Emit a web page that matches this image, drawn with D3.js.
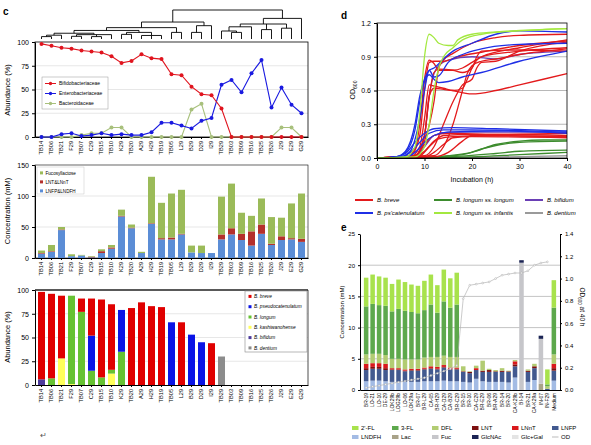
<!DOCTYPE html>
<html>
<head>
<meta charset="utf-8">
<script src="https://cdn.jsdelivr.net/npm/d3@7"></script>
<style>
  body { margin: 0; background: #fff; }
  svg { display: block; font-family: "Liberation Sans", Arial, sans-serif; }
</style>
</head>
<body>
<div id="container"></div>
<script>
// ---- panel c data ----
const samples = ["TB14","TB06","TB21","F29","TB07","C29","TB15","TB10","K29","TB20","A29","H29","TB19","TB05","L29","B29","D29","I29","TB29","TB03","TB09","TB16","TB25","TB26","J29","E29","G29"];
const familyNames = ["Bifidobacteriaceae", "Enterobacteriaceae", "Bacteroidaceae"];
const bifidoAbund = [98,96,94,93,91,90,89,85,78,80,87,83,82,66,65,53,45,44,30,0,0,0,0,0,0,0,0];
const enteroAbund = [0,0,3,4,1,2,4,2,3,2,2,5,15,15,12,9,17,20,55,60,47,67,81,31,52,34,25];
const bacterAbund = [0,0,0,0,2,4,4,10,10,0,0,0,0,0,0,29,35,0,0,0,0,0,0,0,10,10,0];

const hmoGroups = ["LNFP&LNDFH", "LNT&LNnT", "Fucosyllactose"];
const lnfpConc = [7,10,45,3,4,1,8,15,67,48,8,55,30,30,38,9,8,8,30,38,29,20,39,21,29,30,26];
const lntConc  = [1,1,1,0,0,1,3,2,1,1,0,1,2,3,1,0,0,0,8,10,10,23,15,2,6,2,5];
const flConc   = [4,10,4,3,1,1,3,4,10,5,2,75,57,71,71,11,12,0,61,72,34,25,42,43,30,56,73];

const speciesNames = ["B. bifidum","B. kashiwanohense","B. longum","B. pseudocatenulatum","B. breve","B. dentium"];
const bifidumAb = [6,0,0,0,0,0,0,0,0,0,0,0,0,0,0,0,0,0,0,0,0,0,0,0,0,0,0];
const kashiAb   = [0,0,28,1,0,0,0,12,0,0,0,0,0,0,0,0,0,0,0,0,0,0,0,0,0,0,0];
const longumAb  = [0,7,0,93,77,15,8,4,35,0,0,0,0,0,0,0,0,0,0,0,0,0,0,0,0,0,0];
const pseudoAb  = [0,0,0,0,0,37,0,0,44,0,0,0,0,66,0,53,45,0,0,0,0,0,0,0,0,0,0];
const breveAb   = [92,89,66,0,14,39,82,69,0,81,87,83,82,0,66,0,0,44,0,0,0,0,0,0,0,0,0];
const dentiumAb = [0,0,0,0,0,0,0,0,0,0,0,0,0,0,0,0,0,0,30,0,0,0,0,0,0,0,0];

// dendrogram (h = merge height)
const dendroTree = { h: 1, c: [
  { h: 0.57, c: [
    { h: 0.37, c: [
      { h: 0.27, c: [
        { h: 0.17, c: [
          { h: 0.1, c: [{ h: 0.05, c: ["TB14","TB06"] }, "TB21"] },
          { h: 0.12, c: [{ h: 0.06, c: ["F29","TB07"] }, { h: 0.05, c: ["C29","TB15"] }, "TB10"] }
        ] },
        { h: 0.2, c: [{ h: 0.13, c: ["K29","TB20"] }, { h: 0.09, c: ["A29","H29","TB19"] }] }
      ] },
      { h: 0.2, c: ["TB05","L29"] }
    ] },
    { h: 0.44, c: [{ h: 0.2, c: ["B29","D29"] }, "I29"] }
  ] },
  { h: 0.7, c: [
    { h: 0.5, c: [
      { h: 0.4, c: [{ h: 0.25, c: ["TB29", { h: 0.2, c: ["TB03","TB09"] }] }, "TB16"] },
      { h: 0.3, c: ["TB25","TB26"] },
      { h: 0.35, c: ["J29","E29"] }
    ] },
    "G29"
  ] }
] };

// ---- panel d data: [hour, OD600] ----
const breveCurves = [
  [[0,0],[6,0.01],[8,0.08],[9,0.3],[10,0.7],[11,0.87],[12,0.84],[13,0.78],[16,0.78],[18,0.8],[20,0.85],[22,0.9],[30,0.98],[40,1.05]],
  [[0,0],[7,0.02],[9,0.2],[10,0.6],[11,0.85],[12,0.86],[14,0.86],[17,0.9],[22,0.94],[30,1.0],[40,1.04]],
  [[0,0],[7,0.01],[9,0.1],[10,0.35],[11,0.65],[12,0.64],[14,0.62],[16,0.6],[20,0.57],[25,0.6],[30,0.65],[40,0.75]],
  [[0,0],[8,0.02],[10,0.2],[11,0.55],[12,0.76],[13,0.79],[16,0.78],[18,0.76],[20,0.8],[21,0.9],[22,0.95],[30,0.96],[40,0.95]],
  [[0,0],[12,0.02],[14,0.1],[16,0.3],[18,0.6],[19,0.75],[20,0.82],[22,0.86],[25,0.88],[30,0.92],[40,0.97]],
  [[0,0],[8,0.02],[10,0.15],[12,0.5],[13,0.8],[14,0.87],[16,0.93],[20,1.02],[25,1.07],[30,1.09],[40,1.1]],
  [[0,0],[10,0.02],[12,0.1],[14,0.3],[16,0.5],[18,0.65],[20,0.7],[21,0.8],[22,0.85],[25,0.86],[30,0.95],[40,1.03]],
  [[0,0],[8,0.02],[10,0.2],[11,0.55],[12,0.62],[14,0.61],[16,0.6],[18,0.62],[19,0.7],[20,0.8],[22,0.9],[30,0.95],[40,0.98]],
  [[0,0],[8,0.01],[10,0.06],[12,0.15],[14,0.2],[20,0.21],[30,0.21],[40,0.2]],
  [[0,0],[9,0.02],[11,0.1],[13,0.17],[16,0.19],[25,0.2],[40,0.19]],
  [[0,0],[10,0.01],[12,0.05],[14,0.12],[16,0.18],[20,0.19],[40,0.18]],
  [[0,0],[8,0.02],[10,0.12],[12,0.2],[15,0.22],[25,0.21],[40,0.22]],
  [[0,0],[12,0.01],[15,0.05],[18,0.15],[20,0.2],[40,0.19]]
];
const pscatCurves = [
  [[0,0],[4,0.01],[6,0.05],[8,0.25],[9,0.5],[10,0.68],[11,0.74],[12,0.7],[13,0.67],[15,0.68],[18,0.72],[22,0.76],[30,0.86],[40,0.95]],
  [[0,0],[4,0.01],[6,0.06],[8,0.3],[9,0.55],[10,0.7],[11,0.78],[12,0.8],[14,0.88],[16,0.95],[20,1.02],[25,1.1],[30,1.13],[40,1.12]],
  [[0,0],[5,0.01],[7,0.06],[9,0.35],[10,0.6],[11,0.78],[12,0.72],[13,0.73],[15,0.85],[18,0.92],[22,0.97],[30,1.01],[40,1.02]],
  [[0,0],[4,0.01],[6,0.04],[8,0.14],[10,0.22],[12,0.26],[16,0.27],[25,0.26],[40,0.24]],
  [[0,0],[5,0.01],[7,0.05],[9,0.14],[11,0.22],[14,0.25],[20,0.25],[40,0.23]],
  [[0,0],[6,0.01],[8,0.05],[10,0.14],[12,0.2],[15,0.23],[25,0.24],[40,0.22]]
];
const infantisCurves = [
  [[0,0],[6,0.01],[8,0.1],[9,0.4],[10,0.9],[11,1.1],[12,1.07],[13,1.02],[15,1.0],[16,1.0],[17,1.05],[20,1.1],[25,1.12],[40,1.15]],
  [[0,0],[8,0.01],[10,0.1],[11,0.3],[12,0.6],[13,0.8],[14,0.9],[16,0.98],[18,1.05],[22,1.1],[30,1.13],[40,1.15]]
];
const bifidumCurves = [
  [[0,0],[8,0.02],[10,0.2],[11,0.55],[12,0.75],[13,0.82],[15,0.87],[20,0.9],[25,0.88],[30,0.92],[40,0.95]],
  [[0,0],[8,0.01],[10,0.1],[12,0.2],[15,0.23],[40,0.23]]
];
const longumCurves = [
  [[0,0],[10,0.005],[15,0.02],[20,0.05],[25,0.12],[30,0.15],[35,0.16],[40,0.16]],
  [[0,0],[10,0.005],[18,0.03],[22,0.08],[26,0.12],[30,0.14],[40,0.15]],
  [[0,0],[15,0.01],[25,0.04],[30,0.06],[40,0.07]],
  [[0,0],[20,0.01],[30,0.03],[40,0.05]]
];
const dentiumCurves = [
  [[0,0],[20,0.005],[40,0.02]]
];

// ---- panel e data ----
const eSamples = ["BR-19","LO-21","LO-10","DE-29","LOK29b","LOG29b","LO-06","LOK29a","BR-07","BR-L29","CA-05","BR-H29","CA-D29","CA-B29","BR-C29","BR-15","BR-10","CA-C29","BR-E29","BR-06","BR-A29","BR-14","BR-20","CA-K29b","BI-14","BR-21","CA-K29a","IN-07","IN-F29","Medium"];
const lndfhE = [1.4,1.5,1.5,1.4,1.3,1.3,1.3,1.3,1.3,1.4,1.4,1.4,1.5,1.4,1.4, 1.3,1.2,1.8,1.4,1.3,1.3,1.3,1.2,2.0, 0,1.3,1.6,0,0,1.5];
const lnfpE  = [1.8,1.9,1.9,1.8,1.9,1.9,1.7,1.8,1.8,1.9,2.0,1.9,2.1,1.9,1.9, 1.6,1.5,1.4,1.5,1.6,1.6,1.6,1.7,1.8, 0,1.6,1.9,0,0.2,1.6];
const lntE   = [0.3,0.3,0.3,0.3,0.1,0.1,0.1,0.1,0.1,0.1,0.1,0.1,0.1,0.1,0.1, 0.1,0.2,0,0.2,0.3,0.1,0.2,0.1,0.3, 0,0.2,0.3,0,0,0.4];
const lnntE  = [0.7,0.6,0.6,0.7,0.2,0.2,0.2,0.2,0.2,0.2,0.3,0.3,0.3,0.2,0.2, 0,0,0.3,0,0,0,0,0,0.5, 0,0,0,0,0,0.7];
const dflE   = [1.5,1.5,1.5,1.4,1.5,1.5,1.6,1.5,1.5,1.6,1.5,1.6,1.5,1.7,1.7, 0.8,0.1,0.4,1.6,0.2,0.2,0.4,0.1,0.2, 0,0.2,0.4,0,0.4,1.5];
const fl3E   = [7.7,8.0,7.8,7.9,7.6,8.0,7.8,7.6,7.4,7.6,8.4,7.1,8.7,7.9,8.4, 0,0,0,0,0,0,0,0,0, 0,0,0,0,0.3,7.5];
const fl2E   = [4.6,4.7,4.6,4.5,4.4,4.7,4.6,4.4,4.4,4.7,4.8,4.4,5.1,4.7,5.1, 0,0,0,0,0,0,0,0,0, 0,0,0,0,2.4,4.4];
const lacE   = [0,0,0,0,0,0,0,0,0,0,0,0,0,0,0, 0,0,0,0,0,0,0,0,0, 0,0,0,1.0,0,0];
const fucE   = [0,0,0,0,0,0,0,0,0,0,0,0,0,0,0, 0,0,0,0,0,0,0,0,0, 20.4,0,0,7.2,0,0];
const glcGalE = [0,0,0,0,0,0,0,0,0,0,0,0,0,0,0, 0,0,0,0,0,0,0,0,0, 0,0,0,0,0,0];
const glcnacE = [0,0,0,0,0,0,0,0,0,0,0,0,0,0,0, 0,0,0,0,0,0,0,0,0, 0.4,0,0,0.5,0,0];
const odE = [0.02,0.03,0.04,0.05,0.06,0.07,0.08,0.09,0.10,0.11,0.13,0.15,0.17,0.19,0.22,0.82,0.94,0.95,0.96,0.97,1.00,1.03,1.04,1.05,1.05,1.07,1.12,1.14,1.15,null];

// ---- drawing ----
const svg = d3.select("#container")
  .append("svg")
  .attr("width", 591)
  .attr("height", 445);

svg.append("rect").attr("width", 591).attr("height", 445).attr("fill", "#fff");

const panelLabel = (x, y, t) =>
  svg.append("text").attr("x", x).attr("y", y).attr("font-size", 10)
    .attr("font-weight", "bold").text(t);

panelLabel(3, 15, "c");
panelLabel(341, 19, "d");
panelLabel(341, 231, "e");

const xC = d3.scaleBand().domain(samples).range([35, 308]).padding(0.3);
const bw = xC.bandwidth();
const cx = (s) => xC(s) + bw / 2;

const yLabel = (x, y, t, size) =>
  svg.append("text")
    .attr("transform", `translate(${x},${y}) rotate(-90)`)
    .attr("text-anchor", "middle")
    .attr("font-size", size || 7.5)
    .text(t);

// sample axis with vertical labels
const sampleAxis = (y) => {
  const g = svg.append("g")
    .attr("transform", `translate(0,${y})`)
    .call(d3.axisBottom(xC).tickSize(2).tickSizeOuter(0));
  g.select(".domain").attr("stroke-width", 1.2);
  g.selectAll("text")
    .attr("font-size", 5.6)
    .attr("transform", "rotate(-90)")
    .attr("x", -4)
    .attr("y", 0)
    .attr("dy", "0.35em")
    .style("text-anchor", "end");
  return g;
};

const leftAxis = (scale, ticks, x) => {
  const g = svg.append("g")
    .attr("transform", `translate(${x},0)`)
    .call(d3.axisLeft(scale).tickValues(ticks).tickSize(3).tickSizeOuter(0));
  g.selectAll("text").attr("font-size", 7);
  return g;
};

const grid = (scale, vals, x0, x1, color) =>
  svg.append("g").selectAll("line").data(vals).enter().append("line")
    .attr("x1", x0).attr("x2", x1)
    .attr("y1", (d) => scale(d)).attr("y2", (d) => scale(d))
    .attr("stroke", color || "#ddd").attr("stroke-width", 0.7);

// dendrogram
const yDen = d3.scaleLinear().domain([0, 1]).range([38, 10]);
const root = d3.hierarchy(dendroTree, (d) => (typeof d === "string" ? null : d.c));
root.eachAfter((n) => {
  if (!n.children) {
    n.x = cx(n.data);
    n.y = 39;
  } else {
    n.x = (n.children[0].x + n.children[n.children.length - 1].x) / 2;
    n.y = yDen(n.data.h);
  }
});
const dGroup = svg.append("g").attr("stroke", "#000").attr("stroke-width", 0.9).attr("fill", "none");
root.each((n) => {
  if (!n.children) return;
  const xs = n.children.map((c) => c.x);
  dGroup.append("line").attr("x1", d3.min(xs)).attr("x2", d3.max(xs)).attr("y1", n.y).attr("y2", n.y);
  n.children.forEach((c) => {
    dGroup.append("line").attr("x1", c.x).attr("x2", c.x).attr("y1", n.y).attr("y2", c.y);
  });
});

// top: family abundance
const yTop = d3.scaleLinear().domain([0, 100]).range([137, 42]);
grid(yTop, [25, 50, 75], 35, 308);
svg.append("rect").attr("x", 35).attr("y", 42).attr("width", 273).attr("height", 95)
  .attr("fill", "none").attr("stroke", "#000").attr("stroke-width", 0.8);
leftAxis(yTop, [0, 25, 50, 75, 100], 35);
sampleAxis(137);
yLabel(10, 90, "Abundance (%)");

const familyColors = ["#e0141e", "#1a1ae0", "#a8c07c"];
const familySeries = [bifidoAbund, enteroAbund, bacterAbund];
const famLine = d3.line().x((d, i) => cx(samples[i])).y((d) => yTop(d));
[2, 1, 0].forEach((k) => {
  svg.append("path").datum(familySeries[k])
    .attr("d", famLine).attr("fill", "none")
    .attr("stroke", familyColors[k]).attr("stroke-width", 1.1);
  svg.append("g").selectAll("circle").data(familySeries[k]).enter().append("circle")
    .attr("cx", (d, i) => cx(samples[i])).attr("cy", (d) => yTop(d))
    .attr("r", 2).attr("fill", familyColors[k]);
});

const famLegend = svg.append("g");
famLegend.append("rect").attr("x", 42).attr("y", 77).attr("width", 66).attr("height", 32)
  .attr("fill", "#fff").attr("stroke", "#999").attr("stroke-width", 0.5);
familyNames.forEach((name, i) => {
  const y = 83.5 + i * 10;
  famLegend.append("line").attr("x1", 45).attr("x2", 56).attr("y1", y).attr("y2", y)
    .attr("stroke", familyColors[i]).attr("stroke-width", 1);
  famLegend.append("circle").attr("cx", 50.5).attr("cy", y).attr("r", 1.7).attr("fill", familyColors[i]);
  famLegend.append("text").attr("x", 59).attr("y", y + 1.7).attr("font-size", 5).text(name);
});

// middle: HMO concentration
const yMid = d3.scaleLinear().domain([0, 150]).range([258, 165]);
grid(yMid, [50, 100], 35, 308);
svg.append("rect").attr("x", 35).attr("y", 165).attr("width", 273).attr("height", 93)
  .attr("fill", "none").attr("stroke", "#000").attr("stroke-width", 0.6);
const hmoColors = { "LNFP&LNDFH": "#5b8dd6", "LNT&LNnT": "#b5302c", "Fucosyllactose": "#9bbb59" };
const midRows = samples.map((s, i) => ({ s, "LNFP&LNDFH": lnfpConc[i], "LNT&LNnT": lntConc[i], "Fucosyllactose": flConc[i] }));
const midStack = d3.stack().keys(hmoGroups)(midRows);
svg.append("g").selectAll("g").data(midStack).enter().append("g")
  .attr("fill", (d) => hmoColors[d.key])
  .selectAll("rect").data((d) => d).enter().append("rect")
  .attr("x", (d) => xC(d.data.s)).attr("width", bw)
  .attr("y", (d) => yMid(d[1])).attr("height", (d) => yMid(d[0]) - yMid(d[1]));
leftAxis(yMid, [0, 50, 100, 150], 35);
sampleAxis(258);
yLabel(10, 211, "Concentration (mM)");

const hmoLegend = svg.append("g");
hmoLegend.append("rect").attr("x", 37).attr("y", 167).attr("width", 47).attr("height", 27)
  .attr("fill", "#fff").attr("stroke", "#bbb").attr("stroke-width", 0.4);
hmoGroups.slice().reverse().forEach((name, i) => {
  const y = 173 + i * 9;
  hmoLegend.append("rect").attr("x", 40).attr("y", y - 1.6).attr("width", 3).attr("height", 3).attr("fill", hmoColors[name]);
  hmoLegend.append("text").attr("x", 45.5).attr("y", y + 1.5).attr("font-size", 4.6).text(name);
});

// bottom: species abundance
const yBot = d3.scaleLinear().domain([0, 100]).range([385, 290]);
grid(yBot, [25, 50, 75], 35, 308);
const speciesColors = ["#4b3a9c", "#ffff5a", "#66c232", "#0a14e6", "#e00000", "#8c8c8c"];
const speciesSeries = [bifidumAb, kashiAb, longumAb, pseudoAb, breveAb, dentiumAb];
const botRows = samples.map((s, i) => {
  const r = { s };
  speciesNames.forEach((n, k) => { r[n] = speciesSeries[k][i]; });
  return r;
});
const botStack = d3.stack().keys(speciesNames)(botRows);
svg.append("g").selectAll("g").data(botStack).enter().append("g")
  .attr("fill", (d, i) => speciesColors[i])
  .selectAll("rect").data((d) => d).enter().append("rect")
  .attr("x", (d) => xC(d.data.s)).attr("width", bw)
  .attr("y", (d) => yBot(d[1])).attr("height", (d) => yBot(d[0]) - yBot(d[1]));
svg.append("line").attr("x1", 35).attr("x2", 308).attr("y1", 290).attr("y2", 290).attr("stroke", "#222").attr("stroke-width", 1.6);
svg.append("line").attr("x1", 308).attr("x2", 308).attr("y1", 290).attr("y2", 385).attr("stroke", "#222").attr("stroke-width", 0.8);
leftAxis(yBot, [0, 25, 50, 75, 100], 35);
sampleAxis(385);
yLabel(10, 337, "Abundance (%)");

const spLegend = svg.append("g");
spLegend.append("rect").attr("x", 245).attr("y", 291).attr("width", 62).attr("height", 61)
  .attr("fill", "#fff").attr("stroke", "#888").attr("stroke-width", 0.6);
const spOrder = ["B. breve","B. pseudocatenulatum","B. longum","B. kashiwanohense","B. bifidum","B. dentium"];
spOrder.forEach((name, i) => {
  const y = 296.5 + i * 10.3;
  spLegend.append("rect").attr("x", 248.5).attr("y", y - 1.6).attr("width", 3).attr("height", 3)
    .attr("fill", speciesColors[speciesNames.indexOf(name)]);
  spLegend.append("text").attr("x", 254).attr("y", y + 1.6).attr("font-size", 4.8)
    .attr("font-style", "italic").text(name);
});

svg.append("text").attr("x", 40).attr("y", 438).attr("font-size", 8).attr("fill", "#555").text("\u21B5");

// ---- panel d ----
const xD = d3.scaleLinear().domain([0, 40]).range([377, 567]);
const yD = d3.scaleLinear().domain([0, 1.2]).range([158, 23]);
grid(yD, [0.3, 0.6, 0.9], 377, 567, "#999");
const odLine = d3.line().x((d) => xD(d[0])).y((d) => yD(d[1])).curve(d3.curveMonotoneX);
const curveGroups = [
  { curves: dentiumCurves, color: "#9a9a9a" },
  { curves: longumCurves, color: "#3d8c2e" },
  { curves: bifidumCurves, color: "#6a3fb5" },
  { curves: breveCurves, color: "#e31a1c" },
  { curves: pscatCurves, color: "#1f2fe6" },
  { curves: infantisCurves, color: "#a3e83f" }
];
curveGroups.forEach((grp) => {
  svg.append("g").selectAll("path").data(grp.curves).enter().append("path")
    .attr("d", odLine).attr("fill", "none")
    .attr("stroke", grp.color).attr("stroke-width", 1.3);
});
svg.append("rect").attr("x", 377).attr("y", 23).attr("width", 190).attr("height", 135)
  .attr("fill", "none").attr("stroke", "#000").attr("stroke-width", 0.8);
const dxAxis = svg.append("g").attr("transform", "translate(0,158)")
  .call(d3.axisBottom(xD).tickValues([0, 10, 20, 30, 40]).tickSize(3).tickSizeOuter(0));
dxAxis.selectAll("text").attr("font-size", 7);
const dyAxis = svg.append("g").attr("transform", "translate(377,0)")
  .call(d3.axisLeft(yD).tickValues([0, 0.3, 0.6, 0.9, 1.2]).tickFormat(d3.format(".1f")).tickSize(3).tickSizeOuter(0));
dyAxis.selectAll("text").attr("font-size", 7);
svg.append("text").attr("x", 472).attr("y", 182).attr("text-anchor", "middle").attr("font-size", 7).text("Incubation (h)");
const odLab = svg.append("text").attr("transform", "translate(355,90) rotate(-90)")
  .attr("text-anchor", "middle").attr("font-size", 7);
odLab.append("tspan").text("OD");
odLab.append("tspan").attr("font-size", 5).attr("dy", 2).text("600");

const dLegend = [
  { name: "B. breve", color: "#e31a1c", x: 355, y: 200 },
  { name: "B. longum ss. longum", color: "#3d8c2e", x: 434, y: 200 },
  { name: "B. bifidum", color: "#6a3fb5", x: 525, y: 200 },
  { name: "B. ps'catenulatum", color: "#1f2fe6", x: 355, y: 213 },
  { name: "B. longum ss. infantis", color: "#a3e83f", x: 434, y: 213 },
  { name: "B. dentium", color: "#9a9a9a", x: 525, y: 213 }
];
dLegend.forEach((d) => {
  svg.append("line").attr("x1", d.x).attr("x2", d.x + 18).attr("y1", d.y).attr("y2", d.y)
    .attr("stroke", d.color).attr("stroke-width", 2);
  svg.append("text").attr("x", d.x + 22).attr("y", d.y + 2.2).attr("font-size", 6)
    .attr("font-style", "italic").text(d.name);
});

// ---- panel e ----
const xE = d3.scaleBand().domain(eSamples).range([360, 560]).paddingInner(0.3).paddingOuter(0.6);
const yE = d3.scaleLinear().domain([0, 25]).range([390, 234]);
const yOD = d3.scaleLinear().domain([0, 1.4]).range([390, 234]);
grid(yE, [5, 10, 15, 20], 360, 560, "#aaa");

const eKeys = ["LNDFH","LNFP","LNT","LNnT","DFL","3-FL","2'-FL","Lac","Fuc","Glc+Gal","GlcNAc"];
const eSeries = [lndfhE, lnfpE, lntE, lnntE, dflE, fl3E, fl2E, lacE, fucE, glcGalE, glcnacE];
const eColors = {
  "2'-FL": "#a8e24c", "3-FL": "#5da84c", "DFL": "#b2cc72", "LNT": "#7d1010", "LNnT": "#d9191c",
  "LNFP": "#42598f", "LNDFH": "#a3bbe4", "Lac": "#a8a288", "Fuc": "#c6c6ca", "GlcNAc": "#1b2454",
  "Glc+Gal": "#e4e4e4"
};
const eRows = eSamples.map((s, i) => {
  const r = { s };
  eKeys.forEach((k, j) => { r[k] = eSeries[j][i]; });
  return r;
});
const eStack = d3.stack().keys(eKeys)(eRows);
svg.append("g").selectAll("g").data(eStack).enter().append("g")
  .attr("fill", (d) => eColors[d.key])
  .selectAll("rect").data((d) => d).enter().append("rect")
  .attr("x", (d) => xE(d.data.s)).attr("width", xE.bandwidth())
  .attr("y", (d) => yE(d[1])).attr("height", (d) => yE(d[0]) - yE(d[1]));

const odPts = eSamples.map((s, i) => ({ s, v: odE[i] })).filter((d) => d.v !== null);
svg.append("path").datum(odPts)
  .attr("d", d3.line().x((d) => xE(d.s) + xE.bandwidth() / 2).y((d) => yOD(d.v)))
  .attr("fill", "none").attr("stroke", "#b5b5b5").attr("stroke-width", 0.7);
svg.append("g").selectAll("circle").data(odPts).enter().append("circle")
  .attr("cx", (d) => xE(d.s) + xE.bandwidth() / 2).attr("cy", (d) => yOD(d.v))
  .attr("r", 0.9).attr("fill", "#fff").attr("stroke", "#aaa").attr("stroke-width", 0.5);

const eyAxis = svg.append("g").attr("transform", "translate(360,0)")
  .call(d3.axisLeft(yE).tickValues([0, 5, 10, 15, 20, 25]).tickSize(2).tickSizeOuter(0));
eyAxis.selectAll("text").attr("font-size", 6);
const eyAxis2 = svg.append("g").attr("transform", "translate(560,0)")
  .call(d3.axisRight(yOD).tickValues([0, 0.2, 0.4, 0.6, 0.8, 1.0, 1.2, 1.4]).tickFormat(d3.format(".1f")).tickSize(2).tickSizeOuter(0));
eyAxis2.selectAll("text").attr("font-size", 6);
const exAxis = svg.append("g").attr("transform", "translate(0,390)")
  .call(d3.axisBottom(xE).tickSize(0).tickSizeOuter(0));
exAxis.selectAll("text")
  .attr("font-size", 5)
  .attr("transform", "rotate(-90)")
  .attr("x", -3)
  .attr("y", 0)
  .attr("dy", "0.35em")
  .style("text-anchor", "end");
yLabel(344, 312, "Concentration (mM)", 6);
const odLab2 = svg.append("text").attr("transform", "translate(580,307) rotate(90)")
  .attr("text-anchor", "middle").attr("font-size", 6.5);
odLab2.append("tspan").text("OD");
odLab2.append("tspan").attr("font-size", 4.5).attr("dy", 1.8).text("600");
odLab2.append("tspan").attr("dy", -1.8).text(" at 40 h");

const eLegendNames = ["2'-FL","3-FL","DFL","LNT","LNnT","LNFP","LNDFH","Lac","Fuc","GlcNAc","Glc+Gal","OD"];
eLegendNames.forEach((name, i) => {
  const x = 352 + (i % 6) * 40;
  const y = 428 + Math.floor(i / 6) * 9;
  if (name === "OD") {
    svg.append("line").attr("x1", x).attr("x2", x + 6.5).attr("y1", y).attr("y2", y)
      .attr("stroke", "#aaa").attr("stroke-width", 0.8);
  } else {
    svg.append("rect").attr("x", x).attr("y", y - 2).attr("width", 6.5).attr("height", 4)
      .attr("fill", eColors[name]);
  }
  svg.append("text").attr("x", x + 9).attr("y", y + 2).attr("font-size", 6).text(name);
});
</script>
</body>
</html>
